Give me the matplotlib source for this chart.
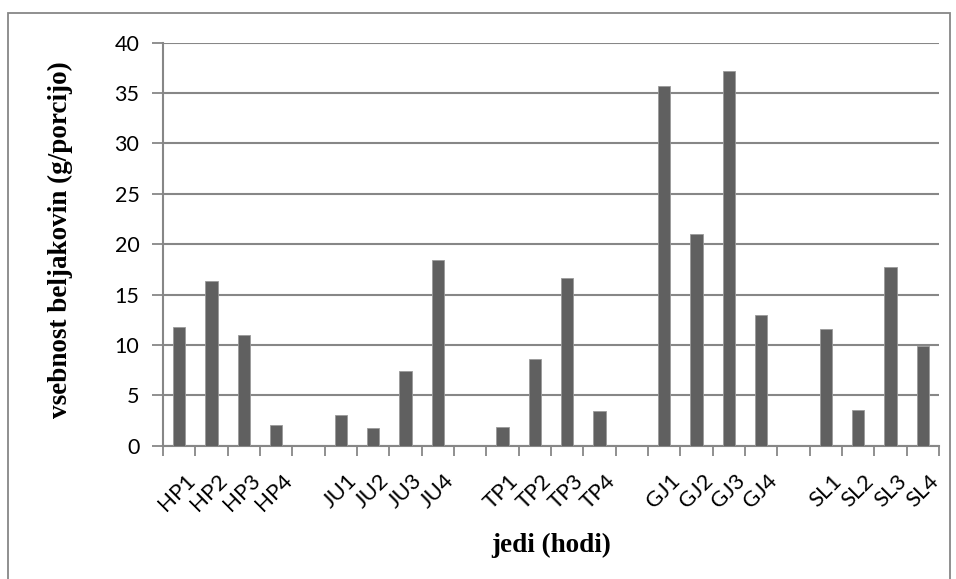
import matplotlib
matplotlib.use("Agg")
import matplotlib.pyplot as plt
import matplotlib.transforms as mtransforms
from matplotlib.patches import Rectangle
import numpy as np

# Meal categories (blank entries separate the groups)
categories = ["HP1", "HP2", "HP3", "HP4", "",
              "JU1", "JU2", "JU3", "JU4", "",
              "TP1", "TP2", "TP3", "TP4", "",
              "GJ1", "GJ2", "GJ3", "GJ4", "",
              "SL1", "SL2", "SL3", "SL4"]
# Protein content per portion (g); None for separator slots
protein = [11.8, 16.3, 11.0, 2.1, None,
           3.0, 1.8, 7.4, 18.4, None,
           1.9, 8.6, 16.6, 3.4, None,
           35.7, 21.0, 37.2, 13.0, None,
           11.6, 3.5, 17.7, 9.9]
y_ticks = [0, 5, 10, 15, 20, 25, 30, 35, 40]

W, H = 956, 579
fig = plt.figure(figsize=(W / 100, H / 100), dpi=100)
fig.patch.set_facecolor("white")

# Outer chart frame
fig.add_artist(Rectangle((8 / W, -0.05), (950 - 8) / W, 1.05 - 13 / H,
                         transform=fig.transFigure, fill=False,
                         edgecolor="#878787", linewidth=1.3))

ax = fig.add_axes([163 / W, 1 - 445.7 / H, (939 - 163) / W, (445.7 - 42.7) / H])

x = np.arange(len(categories))
xs = [xi for xi, v in zip(x, protein) if v is not None]
vals = [v for v in protein if v is not None]
ax.bar(xs, vals, width=0.39, color="#606060", edgecolor="#9a9a9a",
       linewidth=0.6, zorder=3)

ax.set_xlim(-0.5, len(categories) - 0.5)
ax.set_ylim(0, 40)

grid_c = "#878787"
tick_font = "Lato"

ax.set_yticks(y_ticks)
ax.yaxis.grid(True, color=grid_c, linewidth=1.5, zorder=1)
ax.tick_params(axis="y", length=8, width=1.3, color=grid_c, pad=9,
               labelsize=15.5)
for lab in ax.get_yticklabels():
    lab.set_fontfamily(tick_font)

# Slot boundaries carry the tick marks; labels sit at slot centres
ax.set_xticks(np.arange(-0.5, len(categories)), minor=True)
ax.set_xticks(x)
ax.set_xticklabels(categories, rotation=45, ha="right", va="center",
                   rotation_mode="anchor", fontsize=16,
                   fontfamily=tick_font)
ax.tick_params(axis="x", which="major", length=0, pad=23)
ax.tick_params(axis="x", which="minor", length=7, width=1.3, color=grid_c,
               direction="out")
offset = mtransforms.ScaledTranslation(13 / 100, 0, fig.dpi_scale_trans)
for lab in ax.get_xticklabels():
    lab.set_transform(lab.get_transform() + offset)

for side in ["top", "right"]:
    ax.spines[side].set_visible(False)
for side in ["left", "bottom"]:
    ax.spines[side].set_color(grid_c)
    ax.spines[side].set_linewidth(1.5)

serif_bold = dict(fontfamily="Liberation Serif", fontweight="bold", fontsize=19.5)
fig.text(60 / W, 1 - 240 / H, "vsebnost beljakovin (g/porcijo)",
         rotation=90, ha="center", va="center", **serif_bold)
fig.text(551 / W, 1 - 545 / H, "jedi (hodi)", ha="center", va="center",
         **serif_bold)

fig.savefig("out.png", dpi=100, facecolor="white")
